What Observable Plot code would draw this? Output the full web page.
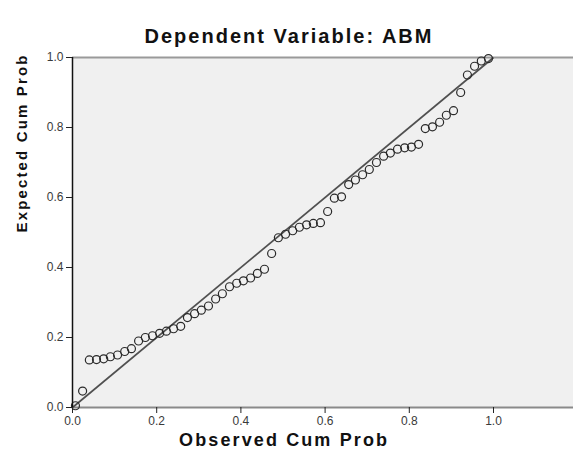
<!DOCTYPE html>
<html>
<head>
<meta charset="utf-8">
<script src="https://cdn.jsdelivr.net/npm/d3@7"></script>
<script src="https://cdn.jsdelivr.net/npm/@observablehq/plot@0.6"></script>
<style>
  html, body { margin: 0; padding: 0; background: #ffffff; }
</style>
</head>
<body>
<div id="chart"></div>
<script>
const titleText = "Dependent Variable: ABM";
const xLabel = "Observed Cum Prob";
const yLabel = "Expected Cum Prob";
const xTicks = [0, 0.2, 0.4, 0.6, 0.8, 1.0];
const yTicks = [0, 0.2, 0.4, 0.6, 0.8, 1.0];
const refLine = [0, 1];

const observedCumProb = [
  0.007, 0.024, 0.040, 0.057, 0.074, 0.090, 0.107, 0.124, 0.140, 0.157,
  0.173, 0.190, 0.207, 0.223, 0.240, 0.257, 0.273, 0.290, 0.306, 0.323,
  0.340, 0.356, 0.373, 0.390, 0.406, 0.423, 0.439, 0.456, 0.473, 0.489,
  0.506, 0.523, 0.539, 0.556, 0.572, 0.589, 0.606, 0.622, 0.639, 0.656,
  0.672, 0.689, 0.705, 0.722, 0.739, 0.755, 0.772, 0.789, 0.805, 0.822,
  0.838, 0.855, 0.872, 0.888, 0.905, 0.922, 0.938, 0.955, 0.971, 0.988
];
const expectedCumProb = [
  0.005, 0.047, 0.136, 0.137, 0.139, 0.145, 0.150, 0.160, 0.168, 0.190,
  0.200, 0.205, 0.212, 0.218, 0.225, 0.232, 0.257, 0.268, 0.278, 0.290,
  0.310, 0.325, 0.345, 0.355, 0.362, 0.370, 0.383, 0.395, 0.440, 0.485,
  0.495, 0.505, 0.515, 0.522, 0.526, 0.528, 0.560, 0.598, 0.602, 0.637,
  0.650, 0.665, 0.680, 0.700, 0.718, 0.727, 0.738, 0.742, 0.744, 0.752,
  0.797, 0.802, 0.815, 0.835, 0.848, 0.900, 0.950, 0.975, 0.990, 0.997
];

const points = observedCumProb.map((x, i) => ({x, y: expectedCumProb[i]}));
const diag = [{x1: refLine[0], y1: refLine[0], x2: refLine[1], y2: refLine[1]}];

const fmt = d3.format(".1f");

const chart = Plot.plot({
  width: 573,
  height: 461,
  marginTop: 57,
  marginBottom: 54,
  marginLeft: 72,
  marginRight: 0,
  style: {fontFamily: "'Liberation Sans', Arial, sans-serif", fontSize: "12px", color: "#3a3a3a", background: "#ffffff", overflow: "visible"},
  x: {domain: [0, 1.19]},
  y: {domain: [0, 1]},
  marks: [
    Plot.frame({fill: "#f0f0f0", stroke: null}),
    Plot.ruleY([1], {stroke: "#9a9a9a", strokeWidth: 2}),
    Plot.ruleY([0], {stroke: "#8a8a8a", strokeWidth: 2}),
    Plot.link(diag, {x1: "x1", y1: "y1", x2: "x2", y2: "y2", stroke: "#505050", strokeWidth: 1.7}),
    Plot.dot(points, {x: "x", y: "y", r: 4, stroke: "#2a2a2a", strokeWidth: 1.2, fill: "none"}),
    Plot.ruleX([0], {stroke: "#111", strokeWidth: 1.5}),
    Plot.axisX({ticks: xTicks, tickFormat: fmt, tickSize: 6, tickPadding: 3, label: null, fontSize: 12, stroke: "#222"}),
    Plot.axisY({ticks: yTicks, tickFormat: fmt, tickSize: 6, tickPadding: 3, label: null, fontSize: 12, stroke: "#222"}),
    Plot.text([titleText], {frameAnchor: "top", dx: -35, dy: -29, fontSize: 20, fontWeight: "bold", fill: "#111"}),
    Plot.text([xLabel], {frameAnchor: "bottom", dx: -40, dy: 38, fontSize: 18, fontWeight: "bold", fill: "#111"}),
    Plot.text([yLabel], {frameAnchor: "left", dx: -50, rotate: -90, fontSize: 15, fontWeight: "bold", fill: "#111"})
  ]
});

document.getElementById("chart").appendChild(chart);

const svg = d3.select(chart);
const setLen = (txt, len) => {
  svg.selectAll("text").filter(function() { return this.textContent === txt; })
    .attr("textLength", len).attr("lengthAdjust", "spacing");
};
setLen(titleText, 287);
setLen(xLabel, 208);
setLen(yLabel, 177);
</script>
</body>
</html>
